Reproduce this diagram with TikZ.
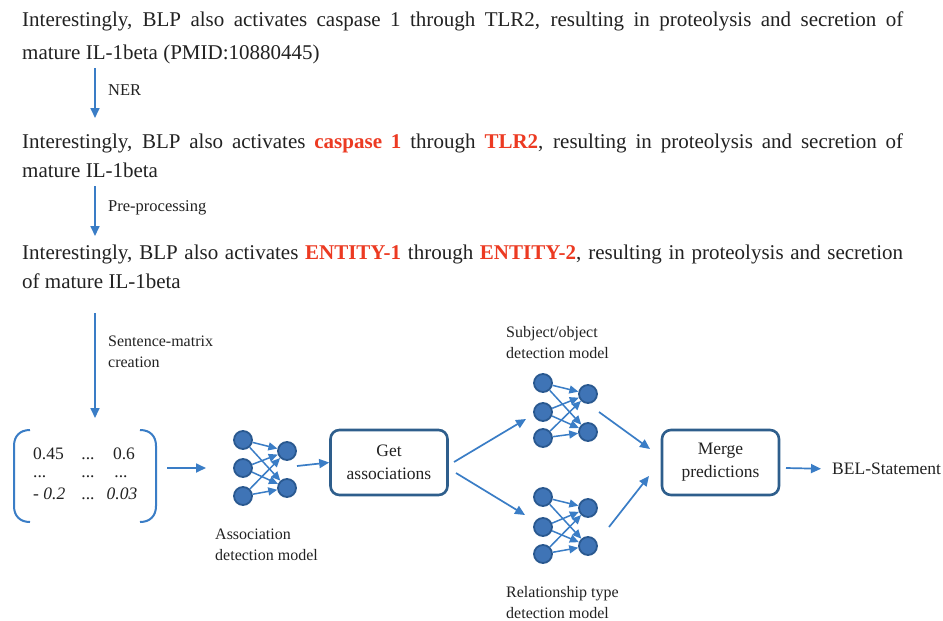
\documentclass[tikz,border=0pt]{standalone}
\usepackage{fontspec}
\setmainfont{Liberation Serif}
\usetikzlibrary{arrows.meta}
\definecolor{arr}{HTML}{3A7DC6}
\definecolor{nfill}{HTML}{3F74B6}
\definecolor{nborder}{HTML}{2A5990}
\definecolor{boxc}{HTML}{2E5E8C}
\definecolor{redt}{HTML}{EC3A22}
\definecolor{txt}{HTML}{222222}
\newcommand{\hl}[1]{\textcolor{redt}{\textbf{#1}}}
\begin{document}
\begin{tikzpicture}[x=1pt,y=-1pt,
  flow/.style={draw=arr, line width=1.7pt, -{Triangle[length=10pt,width=9pt]}},
  nnarrow/.style={draw=arr, line width=1.5pt, -{Triangle[length=9pt,width=8pt]}},
  neuron/.style={circle, fill=nfill, draw=nborder, line width=1.8pt, minimum size=18pt, inner sep=0pt},
  proc/.style={draw=boxc, line width=2.6pt, rounded corners=9pt, minimum width=117pt, minimum height=65pt, align=center, text=txt, font=\fontsize{17.5}{23}\selectfont},
  main/.style={anchor=base west, inner sep=0pt, text=txt, font=\fontsize{21}{24}\selectfont},
  lbl/.style={anchor=west, align=left, inner sep=0pt, text=txt, font=\fontsize{16}{21}\selectfont},
  small/.style={anchor=west, align=left, inner sep=0pt, text=txt, font=\fontsize{16.5}{20}\selectfont},
  mat/.style={inner sep=0pt, text=txt, font=\fontsize{17.5}{21}\selectfont},
  brk/.style={draw=arr, line width=2pt}
]
\fill[white] (0,0) rectangle (943,621);
\useasboundingbox (0,0) rectangle (943,621);

% sentences
\node[main] (s1a) at (22,27) {\makebox[881pt][s]{Interestingly, BLP also activates caspase 1 through TLR2, resulting in proteolysis and secretion of}};
\node[main] (s1b) at (22,59) {mature IL-1beta (PMID:10880445)};
\node[main] (s2a) at (22,148) {\makebox[881pt][s]{Interestingly, BLP also activates \hl{caspase 1} through \hl{TLR2}, resulting in proteolysis and secretion of}};
\node[main] (s2b) at (22,177) {mature IL-1beta};
\node[main] (s3a) at (22,259) {\makebox[881pt][s]{Interestingly, BLP also activates \hl{ENTITY-1} through \hl{ENTITY-2}, resulting in proteolysis and secretion}};
\node[main] (s3b) at (22,288) {of mature IL-1beta};

% vertical arrows
\coordinate (v1s) at (95,68);  \coordinate (v1e) at (95,118);
\coordinate (v2s) at (95,186); \coordinate (v2e) at (95,236);
\coordinate (v3s) at (95,313); \coordinate (v3e) at (95,418);
\draw[flow] (v1s) -- (v1e);
\draw[flow] (v2s) -- (v2e);
\draw[flow] (v3s) -- (v3e);
\node[small] (ner) at (108,90) {NER};
\node[small] (pre) at (108,208) {Pre-processing};
\node[lbl] (smc) at (108,352) {Sentence-matrix\\creation};

% matrix
\draw[brk] (30,430) .. controls (20,430) and (14,436) .. (14,446) -- (14,506) .. controls (14,516) and (20,522) .. (30,522);
\draw[brk] (140,430) .. controls (150,430) and (156,436) .. (156,446) -- (156,506) .. controls (156,516) and (150,522) .. (140,522);
\node[mat, anchor=base west] (m11) at (33,459) {0.45};
\node[mat, anchor=base] (m12) at (88,459) {...};
\node[mat, anchor=base] (m13) at (124,459) {0.6};
\node[mat, anchor=base west] (m21) at (33,477) {...};
\node[mat, anchor=base] (m22) at (88,477) {...};
\node[mat, anchor=base] (m23) at (121,477) {...};
\node[mat, anchor=base west] (m31) at (33,499) {\textit{- 0.2}};
\node[mat, anchor=base] (m32) at (88,499) {...};
\node[mat, anchor=base] (m33) at (122,499) {\textit{0.03}};
\coordinate (matout) at (167,468);
\coordinate (nn1in) at (206,468);
\draw[flow] (matout) -- (nn1in);

% NN1
\node[neuron] (a1) at (243,440) {};
\node[neuron] (a2) at (243,468) {};
\node[neuron] (a3) at (243,496) {};
\node[neuron] (b1) at (287,451) {};
\node[neuron] (b2) at (287,488) {};
\foreach \i in {a1,a2,a3} \foreach \j in {b1,b2} \draw[nnarrow] (\i) -- (\j);
\node[lbl] (l1) at (215,545) {Association\\detection model};

% Get associations
\node[proc] (get) at (389,462.5) {Get\\associations};
\coordinate (nn1out) at (297,466);
\draw[flow] (nn1out) -- (get.west);

% NN2
\node[neuron] (c1) at (543,383) {};
\node[neuron] (c2) at (543,412) {};
\node[neuron] (c3) at (543,438) {};
\node[neuron] (d1) at (588,394) {};
\node[neuron] (d2) at (588,432) {};
\foreach \i in {c1,c2,c3} \foreach \j in {d1,d2} \draw[nnarrow] (\i) -- (\j);
\node[lbl] (l2) at (506,343) {Subject/object\\detection model};

% NN3
\node[neuron] (e1) at (543,497) {};
\node[neuron] (e2) at (543,527) {};
\node[neuron] (e3) at (543,554) {};
\node[neuron] (f1) at (588,508) {};
\node[neuron] (f2) at (588,546) {};
\foreach \i in {e1,e2,e3} \foreach \j in {f1,f2} \draw[nnarrow] (\i) -- (\j);
\node[lbl] (l3) at (506,603) {Relationship type\\detection model};

% Get -> NN2/NN3
\coordinate (g1) at (454,462);
\coordinate (nn2in) at (526,419);
\coordinate (g2) at (456,473);
\coordinate (nn3in) at (525,515);
\draw[flow] (g1) -- (nn2in);
\draw[flow] (g2) -- (nn3in);

% Merge
\node[proc] (merge) at (720.5,462.5) {Merge\\predictions};
\coordinate (nn2out) at (599,412);
\coordinate (mg1) at (650,449);
\coordinate (nn3out) at (609,527);
\coordinate (mg2) at (649,476);
\draw[flow] (nn2out) -- (mg1);
\draw[flow] (nn3out) -- (mg2);

% BEL
\node[anchor=west, inner sep=0pt, text=txt, font=\fontsize{17.5}{21}\selectfont] (bel) at (832,469) {BEL-Statement};
\coordinate (mout) at (786,468);
\draw[flow, shorten >=11pt] (mout) -- (bel.west);
\end{tikzpicture}
\end{document}
